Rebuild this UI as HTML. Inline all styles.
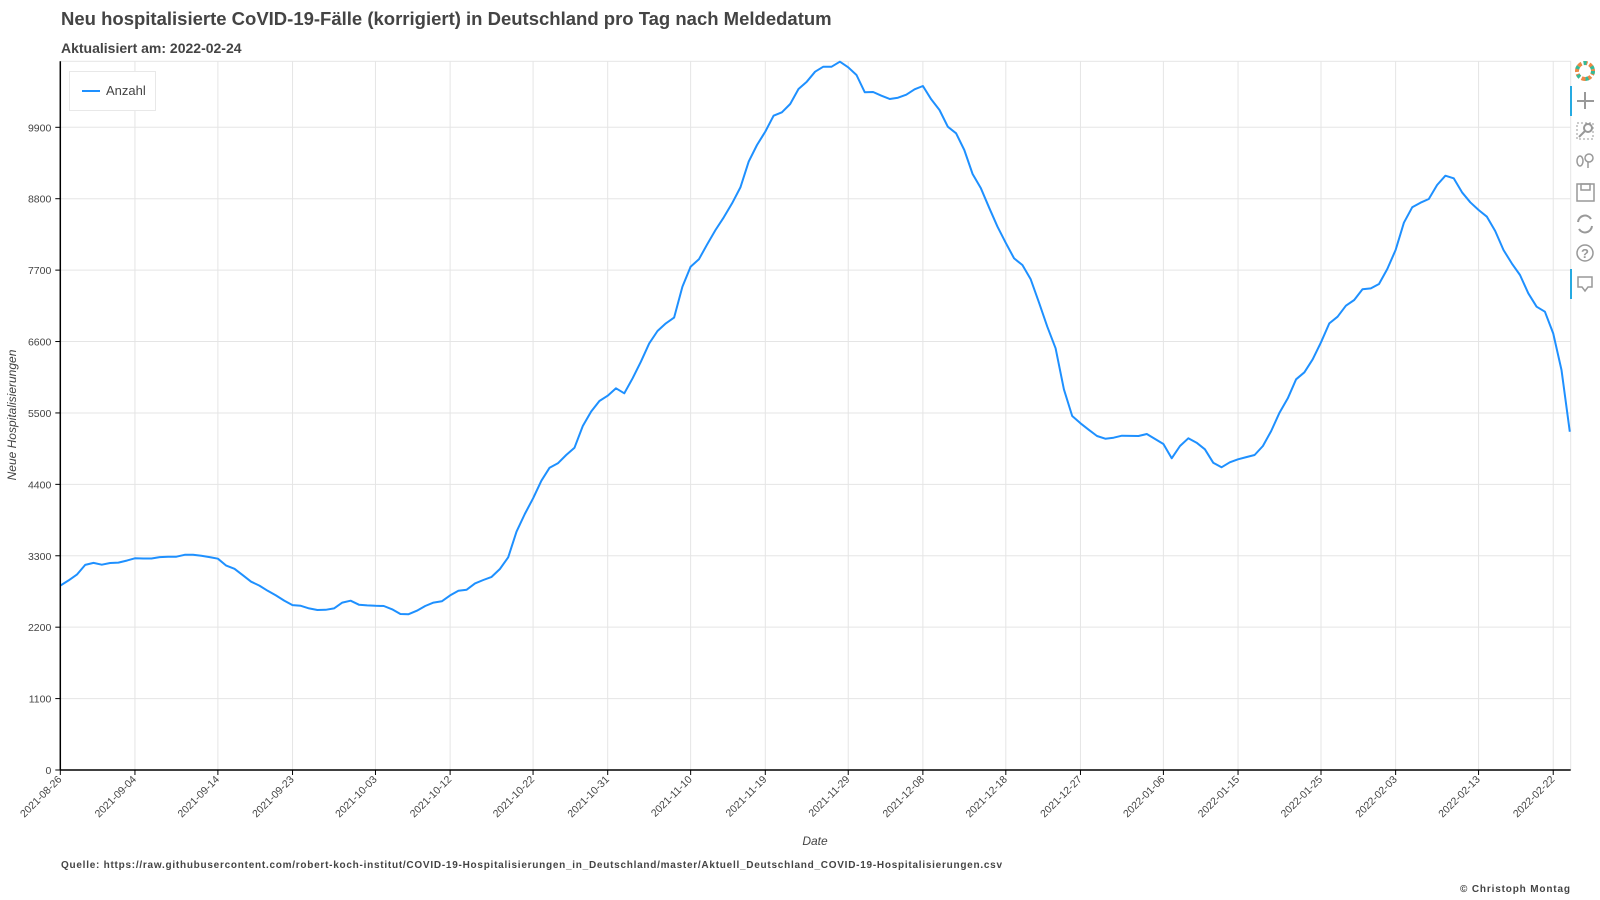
<!DOCTYPE html>
<html><head><meta charset="utf-8">
<style>
html,body{margin:0;padding:0;background:#fff;width:1600px;height:900px;overflow:hidden;font-family:"Liberation Sans",sans-serif;}
svg{display:block}
</style></head>
<body>
<svg id="chart" width="1600" height="900" xmlns="http://www.w3.org/2000/svg">
  <text x="61" y="25" font-family="Liberation Sans, sans-serif" font-size="18.5" font-weight="bold" fill="#444">Neu hospitalisierte CoVID-19-Fälle (korrigiert) in Deutschland pro Tag nach Meldedatum</text>
  <text x="61" y="53" font-family="Liberation Sans, sans-serif" font-size="14" font-weight="bold" fill="#444">Aktualisiert am: 2022-02-24</text>
  <g id="grid"></g>
  <g id="series"></g>
  <g id="axes"></g>
  <text transform="translate(16,415) rotate(-90)" text-anchor="middle" font-family="Liberation Sans, sans-serif" font-size="12" font-style="italic" fill="#444">Neue Hospitalisierungen</text>
  <text x="815" y="845" text-anchor="middle" font-family="Liberation Sans, sans-serif" font-size="12" font-style="italic" fill="#444">Date</text>
  <text x="61" y="868" textLength="941" lengthAdjust="spacing" font-family="Liberation Sans, sans-serif" font-size="10" font-weight="bold" fill="#444">Quelle: https://raw.githubusercontent.com/robert-koch-institut/COVID-19-Hospitalisierungen_in_Deutschland/master/Aktuell_Deutschland_COVID-19-Hospitalisierungen.csv</text>
  <text x="1460" y="892" textLength="110" lengthAdjust="spacing" font-family="Liberation Sans, sans-serif" font-size="10" font-weight="bold" fill="#444">© Christoph Montag</text>
  <g>
    <rect x="69.5" y="71.5" width="86" height="39" fill="#fff" stroke="#e8e8e8"/>
    <line x1="82" y1="91" x2="100" y2="91" stroke="#1e90ff" stroke-width="2"/>
    <text x="106" y="95" font-family="Liberation Sans, sans-serif" font-size="13" fill="#444">Anzahl</text>
  </g>
  <g>
    <g>
      <circle cx="1585" cy="71" r="8" fill="none" stroke="#e84" stroke-width="4" stroke-dasharray="4 2"/>
      <circle cx="1585" cy="71" r="8" fill="none" stroke="#3b9" stroke-width="4" stroke-dasharray="3 6"/>
    </g>
    <rect x="1570" y="86" width="2" height="30" fill="#26aae1"/>
    <g stroke="#999" stroke-width="2" fill="none">
      <line x1="1585" y1="92" x2="1585" y2="109"/><line x1="1577" y1="101" x2="1594" y2="101"/>
    </g>
    <g fill="none" stroke="#999">
      <rect x="1577" y="123" width="16" height="16" stroke-dasharray="2 2"/>
      <circle cx="1588" cy="128" r="4" stroke-width="2"/><line x1="1585" y1="131" x2="1579" y2="137" stroke-width="2"/>
    </g>
    <g fill="none" stroke="#999" stroke-width="1.5">
      <ellipse cx="1580" cy="161" rx="3" ry="5"/><circle cx="1589" cy="158" r="4"/><line x1="1588" y1="162" x2="1588" y2="168"/>
    </g>
    <g fill="none" stroke="#999" stroke-width="1.5">
      <rect x="1577" y="184" width="17" height="17"/><rect x="1581" y="184" width="9" height="6"/>
    </g>
    <g fill="none" stroke="#999" stroke-width="2">
      <path d="M1578 222 A7 7 0 0 1 1591 219"/><path d="M1592 226 A7 7 0 0 1 1579 229"/>
    </g>
    <g>
      <circle cx="1585" cy="253" r="8" fill="none" stroke="#999" stroke-width="1.5"/>
      <text x="1585" y="258" text-anchor="middle" font-family="Liberation Sans, sans-serif" font-size="13" font-weight="bold" fill="#999">?</text>
    </g>
    <rect x="1570" y="269" width="2" height="30" fill="#26aae1"/>
    <g fill="none" stroke="#999" stroke-width="1.5">
      <path d="M1578 277 H1592 V287 H1588 L1585 291 L1582 287 H1578 Z"/>
    </g>
  </g>
</svg>
<script>
const tickLabels = ["2021-08-26","2021-09-04","2021-09-14","2021-09-23","2021-10-03","2021-10-12","2021-10-22","2021-10-31","2021-11-10","2021-11-19","2021-11-29","2021-12-08","2021-12-18","2021-12-27","2022-01-06","2022-01-15","2022-01-25","2022-02-03","2022-02-13","2022-02-22"];
const tickDays = [0,9,19,28,38,47,57,66,76,85,95,104,114,123,133,142,152,161,171,180];
const yTicks = [0,1100,2200,3300,4400,5500,6600,7700,8800,9900];
const startDate = "2021-08-26";
const anzahl = [
2840,2920,3010,3160,3190,3163,3189,3195,3225,3261,
3258,3258,3280,3286,3286,3315,3317,3300,3280,3255,
3148,3100,3000,2900,2840,2760,2690,2610,2540,2530,
2490,2465,2467,2490,2578,2608,2547,2535,2530,2526,
2475,2403,2400,2454,2526,2578,2598,2690,2762,2777,
2875,2927,2975,3096,3276,3671,3943,4185,4457,4657,
4724,4852,4965,5299,5520,5684,5766,5879,5802,6033,
6290,6572,6762,6880,6968,7445,7753,7866,8097,8318,
8513,8729,8975,9371,9627,9833,10079,10131,10259,10490,
10603,10757,10834,10834,10911,10824,10706,10439,10444,10387,
10336,10356,10402,10485,10536,10331,10166,9910,9807,9550,
9180,8960,8660,8369,8120,7881,7779,7558,7200,6829,
6495,5864,5453,5340,5240,5145,5104,5119,5150,5147,
5145,5176,5099,5022,4801,4991,5109,5042,4940,4734,
4662,4739,4786,4820,4852,4991,5222,5504,5725,6018,
6126,6326,6588,6880,6983,7152,7240,7404,7419,7486,
7717,8010,8431,8667,8739,8795,9011,9155,9114,8898,
8744,8626,8523,8302,8010,7804,7625,7343,7137,7060,
6726,6161,5211];

const NS = "http://www.w3.org/2000/svg";
const L = 60.3, R = 1570.7, T = 61.3, B = 770;
const dayW = 8.294;
const yScale = v => B - v * (B - 127.3) / 9900;
const xScale = d => L + d * dayW;
function mk(tag, attrs, parent){const e=document.createElementNS(NS,tag);for(const k in attrs)e.setAttribute(k,attrs[k]);parent.appendChild(e);return e;}
const grid = document.getElementById('grid'), axes = document.getElementById('axes'), series = document.getElementById('series');

mk('rect',{x:L,y:T,width:R-L,height:B-T,fill:'none',stroke:'#e5e5e5'},grid);
yTicks.forEach(v=>{
  const y=yScale(v);
  if(v>0){const g=mk('line',{x1:L,x2:R,y1:y,y2:y,stroke:'#e5e5e5','stroke-width':1},grid);
  
  }
  mk('line',{x1:L-5,x2:L,y1:y,y2:y,stroke:'#000'},axes);
  const t=mk('text',{x:L-9,y:y+4,'text-anchor':'end','font-family':'Liberation Sans, sans-serif','font-size':'10.5',fill:'#444'},axes);
  
  
  t.textContent=v;
});
tickDays.forEach((d,i)=>{
  const x=xScale(d);
  if(d>0){const g=mk('line',{x1:x,x2:x,y1:T,y2:B,stroke:'#e5e5e5'},grid);
  
  }
  mk('line',{x1:x,x2:x,y1:B,y2:B+5,stroke:'#000'},axes);
  const t=mk('text',{transform:`translate(${x+2},${B+10}) rotate(-45)`,'text-anchor':'end','font-family':'Liberation Sans, sans-serif','font-size':'10.5',fill:'#444'},axes);
  
  
  t.textContent=tickLabels[i];
});
mk('line',{x1:L,x2:L,y1:T,y2:B+0.5,stroke:'#000','stroke-width':1.5},axes);
mk('line',{x1:L,x2:R,y1:B,y2:B,stroke:'#000','stroke-width':1.5},axes);

const pts = anzahl.map((v,i)=>xScale(i).toFixed(1)+','+yScale(v).toFixed(1)).join(' ');
const line = mk('polyline',{points:pts,fill:'none',stroke:'#1e90ff','stroke-width':2,'stroke-linejoin':'round'},series);


</script>
</body></html>
